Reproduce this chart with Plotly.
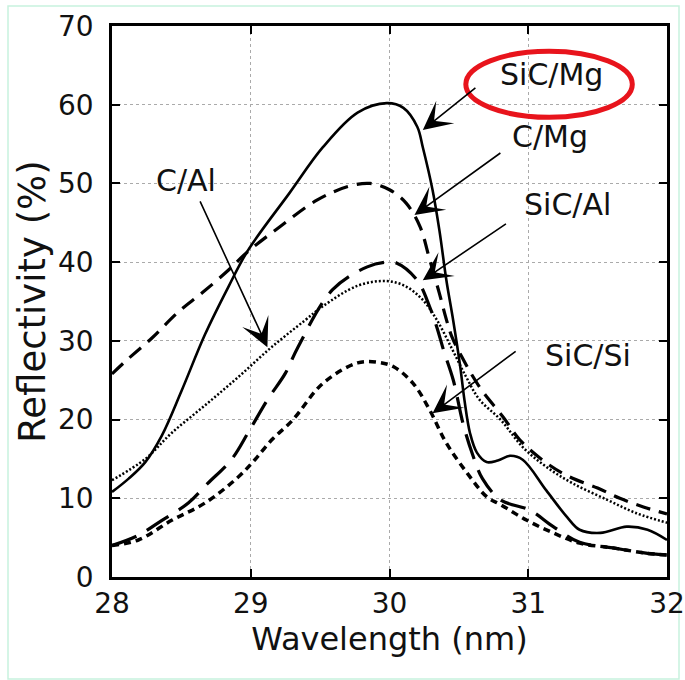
import plotly.graph_objects as go

# ---------------- data ----------------
sicmg_x = [28.0, 28.12, 28.24, 28.36, 28.5, 28.67, 28.84, 28.98, 29.28, 29.52, 29.77, 29.98, 30.1, 30.2, 30.24,
           30.31, 30.36, 30.41, 30.46, 30.51, 30.54, 30.58, 30.63, 30.7, 30.78, 30.87, 30.96, 31.13, 31.28,
           31.37, 31.52, 31.71, 31.86, 32.0]
sicmg_y = [10.8, 12.5, 14.6, 18.0, 23.6, 30.8, 36.9, 41.5, 48.8, 54.6, 59.0, 60.2, 59.6, 57.2, 54.6,
           49.2, 44.0, 37.7, 32.5, 26.7, 22.5, 18.3, 15.8, 14.6, 14.8, 15.4, 14.9, 11.0, 7.6,
           6.0, 5.6, 6.4, 6.0, 4.7]

cmg_x = [28.0, 28.09, 28.29, 28.48, 28.65, 28.84, 28.97, 29.21, 29.48, 29.7, 29.86, 30.0, 30.12, 30.22,
         30.29, 30.36, 30.41, 30.45, 30.52, 30.6, 30.67, 30.82, 30.94, 31.13, 31.3, 31.5, 31.66, 31.83, 32.0]
cmg_y = [25.8, 27.3, 30.4, 33.7, 36.1, 39.0, 41.2, 44.5, 47.9, 49.6, 50.0, 49.2, 47.5, 44.5,
         40.3, 36.0, 32.7, 30.5, 28.0, 25.5, 23.6, 20.3, 17.4, 14.5, 12.7, 11.3, 10.0, 8.9, 8.0]

cal_x = [28.0, 28.24, 28.43, 28.67, 28.91, 29.15, 29.39, 29.52, 29.77, 29.98, 30.12, 30.24, 30.34,
         30.45, 30.55, 30.65, 30.8, 30.96, 31.13, 31.32, 31.57, 31.78, 32.0]
cal_y = [12.3, 15.0, 18.3, 21.8, 25.4, 29.2, 32.6, 34.4, 37.0, 37.6, 36.9, 35.2, 32.7,
         29.0, 25.5, 22.5, 20.0, 16.5, 14.0, 11.9, 9.8, 8.1, 6.9]

sical_x = [28.0, 28.19, 28.36, 28.55, 28.69, 28.86, 28.98, 29.12, 29.25, 29.34, 29.59, 29.84, 29.98,
           30.05, 30.2, 30.29, 30.34, 30.39, 30.46, 30.53, 30.6, 30.67, 30.8, 31.01, 31.18, 31.37,
           31.61, 31.86, 32.0]
sical_y = [4.0, 5.3, 7.2, 9.4, 11.9, 14.9, 18.3, 22.5, 25.9, 29.2, 36.5, 39.4, 40.0,
           39.9, 37.7, 34.3, 31.8, 28.8, 25.0, 19.5, 15.5, 12.5, 9.8, 8.5, 6.4, 4.4,
           3.7, 3.0, 2.8]

sicsi_x = [28.0, 28.19, 28.43, 28.67, 28.91, 29.03, 29.15, 29.3, 29.52, 29.77, 29.91, 30.03, 30.17,
           30.29, 30.41, 30.56, 30.7, 30.8, 30.99, 31.18, 31.37, 31.61, 31.86, 32.0]
sicsi_y = [4.0, 4.7, 7.2, 9.4, 12.7, 14.9, 17.4, 19.9, 24.6, 27.2, 27.3, 26.7, 24.6,
           21.2, 17.0, 13.2, 10.2, 9.2, 7.2, 5.6, 4.3, 3.7, 3.0, 2.8]

x_ticks = [28, 29, 30, 31, 32]
y_ticks = [0, 10, 20, 30, 40, 50, 60, 70]

labels = ["SiC/Mg", "C/Mg", "SiC/Al", "SiC/Si", "C/Al"]
label_pos = [(31.17, 63.9), (31.16, 55.9), (31.28, 47.3), (31.43, 28.2), (28.53, 50.4)]
arrow_tip = [(30.24, 56.8), (30.18, 46.0), (30.24, 37.7), (30.31, 20.8), (29.12, 29.2)]
arrow_tail = [(30.63, 62.3), (30.81, 54.0), (30.85, 45.0), (30.92, 28.8), (28.63, 47.9)]

FONT = "DejaVu Sans"

fig = go.Figure()

def add(xs, ys, dash, width):
    fig.add_trace(go.Scatter(x=xs, y=ys, mode="lines",
                             line=dict(color="black", width=width, dash=dash,
                                       shape="spline", smoothing=1.0),
                             showlegend=False, hoverinfo="skip"))

add(sicsi_x, sicsi_y, "7px,5px", 3.5)
add(sical_x, sical_y, "26px,12px", 3.2)
add(cal_x, cal_y, "2px,2px", 2.5)
add(cmg_x, cmg_y, "15px,9px", 3.2)
add(sicmg_x, sicmg_y, "solid", 2.6)

annotations = []
for t, (lx, ly) in zip(labels, label_pos):
    annotations.append(dict(x=lx, y=ly, xref="x", yref="y", text=t, showarrow=False,
                            font=dict(family=FONT, size=30, color="#111"),
                            xanchor="center", yanchor="middle"))
for (tx, ty), (sx, sy) in zip(arrow_tip, arrow_tail):
    annotations.append(dict(x=tx, y=ty, xref="x", yref="y", ax=sx, ay=sy, axref="x", ayref="y",
                            text="", showarrow=True, arrowhead=3, arrowsize=3.0, arrowwidth=1.6,
                            arrowcolor="black", standoff=0, startstandoff=0))

fig.update_layout(
    width=685, height=680,
    margin=dict(l=112, r=18, t=26, b=103, autoexpand=False),
    paper_bgcolor="white", plot_bgcolor="white",
    font=dict(family=FONT, color="#111"),
    annotations=annotations,
    shapes=[
        dict(type="circle", xref="x", yref="y", x0=30.55, x1=31.75, y0=58.4, y1=66.8,
             line=dict(color="#e8141c", width=5)),
        dict(type="rect", xref="paper", yref="paper",
             x0=(8 - 112) / 555, x1=(679 - 112) / 555, y0=(577 - 679) / 551, y1=(577 - 6) / 551,
             line=dict(color="#c8f2de", width=1.5), layer="below"),
    ],
)

fig.update_xaxes(range=[28, 32], tickvals=x_ticks, ticktext=[str(v) for v in x_ticks],
                 automargin=False,
                 showline=True, linecolor="black", linewidth=2.5, mirror="allticks",
                 ticks="inside", ticklen=8, tickwidth=2, tickcolor="black",
                 showgrid=True, gridcolor="#aaaaaa", gridwidth=1, griddash="dot",
                 zeroline=False, tickfont=dict(family=FONT, size=28, color="#111"),
                 title=dict(text="Wavelength (nm)", font=dict(family=FONT, size=32, color="#111"),
                            standoff=6))
fig.update_yaxes(range=[0, 70], tickvals=y_ticks, ticktext=[str(v) for v in y_ticks],
                 automargin=False,
                 showline=True, linecolor="black", linewidth=2.5, mirror="allticks",
                 ticks="inside", ticklen=8, tickwidth=2, tickcolor="black",
                 showgrid=True, gridcolor="#aaaaaa", gridwidth=1, griddash="dot",
                 zeroline=False, tickfont=dict(family=FONT, size=28, color="#111"),
                 ticklabelstandoff=10,
                 title=dict(text="Reflectivity (%)", font=dict(family=FONT, size=37, color="#111"),
                            standoff=2))

fig.write_html("out.html")
